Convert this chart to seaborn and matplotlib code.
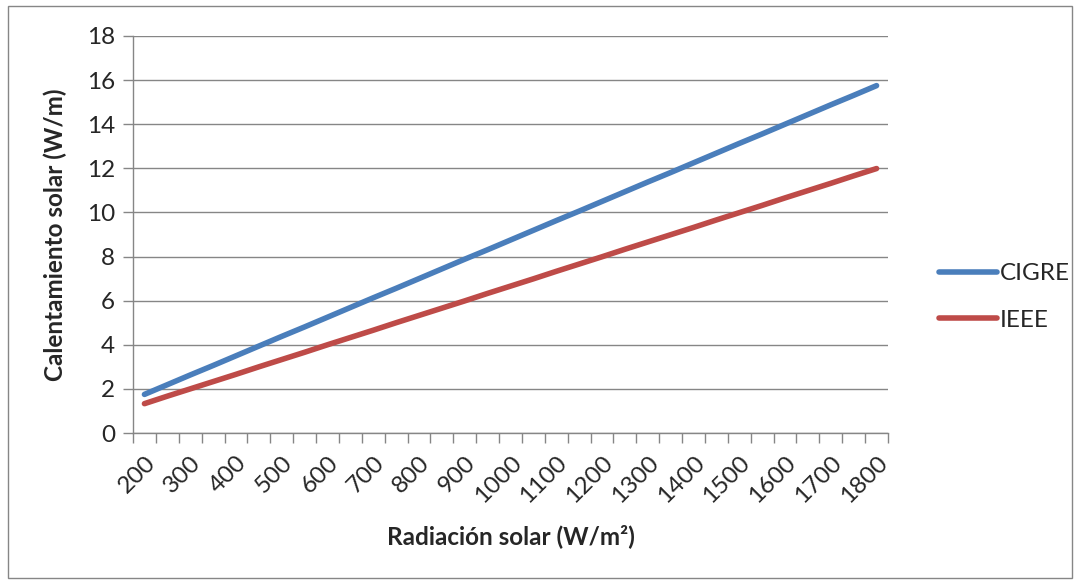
import matplotlib
matplotlib.use("Agg")
import matplotlib.pyplot as plt
import seaborn as sns
import pandas as pd
from matplotlib.patches import Rectangle
from matplotlib.ticker import FixedLocator

radiacion = [200, 250, 300, 350, 400, 450, 500, 550, 600, 650, 700, 750, 800, 850,
             900, 950, 1000, 1050, 1100, 1150, 1200, 1250, 1300, 1350, 1400, 1450,
             1500, 1550, 1600, 1650, 1700, 1750, 1800]
cigre = [1.75, 2.19, 2.63, 3.06, 3.50, 3.94, 4.38, 4.81, 5.25, 5.69, 6.13, 6.56,
         7.00, 7.44, 7.88, 8.31, 8.75, 9.19, 9.63, 10.06, 10.50, 10.94, 11.38,
         11.81, 12.25, 12.69, 13.13, 13.56, 14.00, 14.44, 14.88, 15.31, 15.75]
ieee = [1.33, 1.67, 2.00, 2.33, 2.66, 3.00, 3.33, 3.66, 4.00, 4.33, 4.66, 5.00,
        5.33, 5.66, 5.99, 6.33, 6.66, 6.99, 7.33, 7.66, 7.99, 8.33, 8.66, 8.99,
        9.32, 9.66, 9.99, 10.32, 10.66, 10.99, 11.32, 11.66, 11.99]
series_names = ["CIGRE", "IEEE"]
colors = ["#4A7EBB", "#BE4B48"]

idx = list(range(len(radiacion)))
df = pd.DataFrame({
    "idx": idx * 2,
    "valor": cigre + ieee,
    "serie": [series_names[0]] * len(idx) + [series_names[1]] * len(idx),
})

sns.set_style("white")
plt.rcParams["font.family"] = ["Lato", "DejaVu Sans"]
FS = 17.5

fig = plt.figure(figsize=(10.8, 5.81), dpi=100)
W, H = 1080, 581
ax = fig.add_axes([133 / W, 1 - 433 / H, (888 - 133) / W, (433 - 36) / H])

sns.lineplot(data=df, x="idx", y="valor", hue="serie", palette=colors,
             linewidth=4, ax=ax, legend=True, solid_capstyle="round")

ax.set_xlim(-0.5, len(radiacion) - 0.5)
ax.set_ylim(0, 18)
ax.set_yticks(range(0, 19, 2))
ax.tick_params(axis="y", labelsize=FS, length=7, width=1, color="#868686",
               direction="out", pad=6, left=True)
ax.yaxis.grid(True, color="#868686", linewidth=1)
ax.xaxis.grid(False)

label_pos = idx[::2]
ax.set_xticks(label_pos)
ax.set_xticklabels([str(v) for v in radiacion[::2]], rotation=45, ha="right",
                   va="top", rotation_mode="anchor", fontsize=FS)
ax.tick_params(axis="x", which="major", length=0, pad=14)
ax.xaxis.set_minor_locator(FixedLocator([i - 0.5 for i in range(len(radiacion) + 1)]))
ax.tick_params(axis="x", which="minor", length=7, width=1, color="#868686",
               direction="out", bottom=True)

for s in ["top", "right"]:
    ax.spines[s].set_visible(False)
for s in ["left", "bottom"]:
    ax.spines[s].set_color("#868686")
    ax.spines[s].set_linewidth(1)

ax.set_xlabel("Radiación solar (W/m²)", fontsize=FS, fontweight="bold", labelpad=12)
ax.set_ylabel("Calentamiento solar (W/m)", fontsize=FS, fontweight="bold", labelpad=14)

handles, labels = ax.get_legend_handles_labels()
ax.get_legend().remove()
leg = fig.legend(handles, labels, loc="center left",
                 bbox_to_anchor=(917 / W, 1 - 297 / H), frameon=False,
                 fontsize=FS, handlelength=2.4, handletextpad=0.1,
                 labelspacing=1.05)
for line in leg.get_lines():
    line.set_linewidth(4)
    line.set_solid_capstyle("round")

fig.patches.append(Rectangle((8 / W, 1 - 578 / H), (1072 - 8) / W, (578 - 6) / H,
                             transform=fig.transFigure, fill=False,
                             edgecolor="#868686", linewidth=1))

fig.savefig("out.png", dpi=100)
